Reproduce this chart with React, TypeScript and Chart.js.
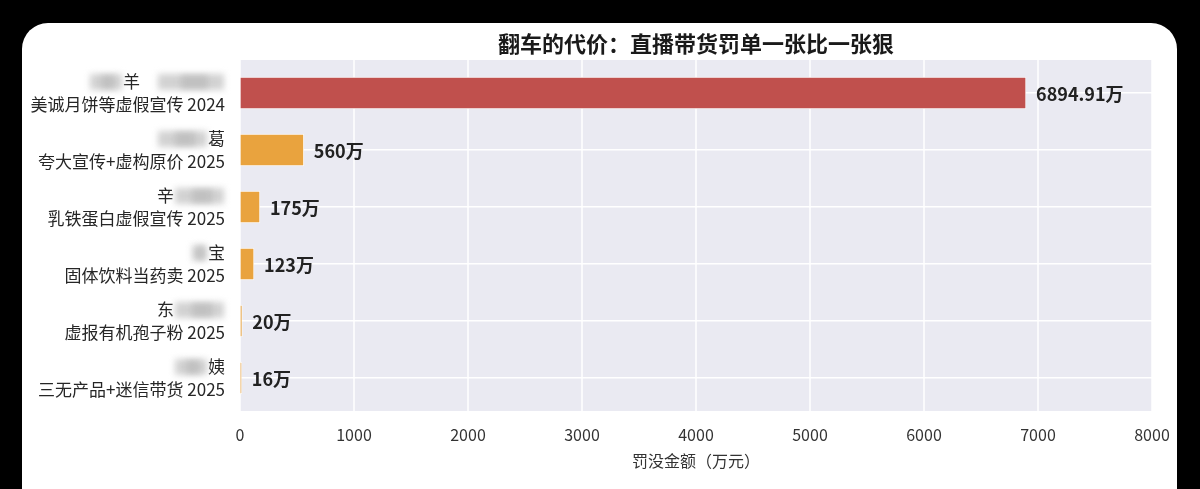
import React, { useEffect, useRef } from "react";
import { Chart, registerables } from "chart.js";

Chart.register(...registerables);

const FONT = '"Noto Sans CJK SC", "Noto Sans", sans-serif';

// name line (○ marks a blurred / hidden character) and case description
const namePatterns = ["○○羊　○○○○", "○○○葛", "辛○○○", "○宝", "东○○○", "○○姨"];
const caseLabels = [
  "美诚月饼等虚假宣传 2024",
  "夸大宣传+虚构原价 2025",
  "乳铁蛋白虚假宣传 2025",
  "固体饮料当药卖 2025",
  "虚报有机孢子粉 2025",
  "三无产品+迷信带货 2025",
];
const fines = [6894.91, 560, 175, 123, 20, 16];
const valueLabels = ["6894.91万", "560万", "175万", "123万", "20万", "16万"];
const barColors = ["#C0504D", "#E9A33E", "#E9A33E", "#E9A33E", "#E9A33E", "#E9A33E"];
const xTicks = [0, 1000, 2000, 3000, 4000, 5000, 6000, 7000, 8000];
const titleText = "翻车的代价：直播带货罚单一张比一张狠";
const xTitle = "罚没金额（万元）";

const BLANK = "\u3000";
const Y_FONT_SIZE = 17;

export default function App() {
  const ref = useRef<HTMLCanvasElement | null>(null);

  useEffect(() => {
    const canvas = ref.current;
    if (!canvas) return;

    const labels = namePatterns.map((p, i) => [p.split("○").join(BLANK), caseLabels[i]]);

    const bgPlugin = {
      id: "bgPlugin",
      beforeDraw(chart: any) {
        const { ctx, chartArea, scales } = chart;
        const top = chartArea.top - 4.5;
        const bottom = chartArea.bottom + 4.5;
        ctx.save();
        ctx.fillStyle = "#EAEAF2";
        ctx.fillRect(chartArea.left, top, chartArea.right - chartArea.left, bottom - top);
        ctx.strokeStyle = "#FFFFFF";
        ctx.lineWidth = 1.5;
        xTicks.forEach((t) => {
          const x = scales.x.getPixelForValue(t);
          ctx.beginPath();
          ctx.moveTo(x, top);
          ctx.lineTo(x, bottom);
          ctx.stroke();
        });
        ctx.restore();
      },
    };

    const titlePlugin = {
      id: "titlePlugin",
      afterDraw(chart: any) {
        const { ctx, chartArea } = chart;
        ctx.save();
        ctx.font = `bold 22px ${FONT}`;
        ctx.fillStyle = "#1a1a1a";
        ctx.textAlign = "center";
        ctx.textBaseline = "middle";
        ctx.fillText(titleText, (chartArea.left + chartArea.right) / 2, chartArea.top - 20.5);
        ctx.restore();
      },
    };

    const valuePlugin = {
      id: "valuePlugin",
      afterDatasetsDraw(chart: any) {
        const { ctx } = chart;
        const meta = chart.getDatasetMeta(0);
        ctx.save();
        ctx.font = `bold 18px ${FONT}`;
        ctx.fillStyle = "#222222";
        ctx.textAlign = "left";
        ctx.textBaseline = "middle";
        meta.data.forEach((bar: any, i: number) => {
          ctx.fillText(valueLabels[i], bar.x + 10, bar.y + 1);
        });
        ctx.restore();
      },
    };

    const blurPlugin = {
      id: "blurPlugin",
      afterDraw(chart: any) {
        const { ctx, chartArea, scales } = chart;
        const rightX = chartArea.left - 15;
        ctx.save();
        ctx.font = `${Y_FONT_SIZE}px ${FONT}`;
        namePatterns.forEach((p, i) => {
          const line = p.split("○").join(BLANK);
          const total = ctx.measureText(line).width;
          const startX = rightX - total;
          const cy = scales.y.getPixelForValue(i) - 11;
          const chars = Array.from(p);
          let j = 0;
          while (j < chars.length) {
            if (chars[j] === "○") {
              let k = j;
              while (k < chars.length && chars[k] === "○") k++;
              const x0 = startX + ctx.measureText(chars.slice(0, j).join("").split("○").join(BLANK)).width;
              const x1 = startX + ctx.measureText(chars.slice(0, k).join("").split("○").join(BLANK)).width;
              ctx.filter = "blur(3px)";
              ctx.fillStyle = "#d2d2d2";
              ctx.fillRect(x0 + 1, cy - 8, x1 - x0 - 2, 16);
              ctx.fillStyle = "#c0c0c0";
              ctx.fillRect(x0 + (x1 - x0) * 0.35, cy - 6, (x1 - x0) * 0.4, 12);
              ctx.filter = "none";
              j = k;
            } else j++;
          }
        });
        ctx.restore();
      },
    };

    const chart = new Chart(canvas, {
      type: "bar",
      data: {
        labels,
        datasets: [
          {
            data: fines,
            backgroundColor: barColors,
            borderColor: "rgba(255,255,255,0.75)",
            borderWidth: 1,
            borderSkipped: false,
            barThickness: 32,
          },
        ],
      },
      options: {
        indexAxis: "y",
        animation: false,
        responsive: false,
        devicePixelRatio: 1,
        layout: { padding: { left: 0, right: 25, top: 41.5, bottom: 0 } },
        plugins: {
          legend: { display: false },
          tooltip: { enabled: false },
          title: { display: false },
        },
        scales: {
          x: {
            type: "linear",
            min: 0,
            max: 8000,
            afterBuildTicks(scale: any) {
              scale.ticks = xTicks.map((v) => ({ value: v }));
            },
            afterFit(scale: any) {
              scale.height = 82.5;
              scale.paddingLeft = 0;
              scale.paddingRight = 0;
            },
            grid: { display: false, drawTicks: false },
            border: { display: false },
            ticks: {
              color: "#333333",
              padding: 19,
              font: { family: FONT, size: 16, lineHeight: 1.2 },
              maxRotation: 0,
              callback: (v: any) => String(v),
            },
            title: {
              display: true,
              text: xTitle,
              color: "#333333",
              font: { family: FONT, size: 16, lineHeight: 1.2 },
              padding: { top: 7, bottom: 18 },
            },
          },
          y: {
            grid: { color: "#FFFFFF", lineWidth: 1.5, offset: false, drawTicks: false },
            border: { display: false },
            afterFit(scale: any) {
              scale.width = 218;
              scale.paddingTop = 0;
              scale.paddingBottom = 0;
            },
            ticks: {
              color: "#262626",
              padding: 15,
              font: { family: FONT, size: Y_FONT_SIZE, lineHeight: 1.3 },
            },
          },
        },
      },
      plugins: [bgPlugin, valuePlugin, blurPlugin, titlePlugin],
    } as any);

    return () => chart.destroy();
  }, []);

  return (
    <div style={{ position: "fixed", inset: 0, background: "#000", overflow: "hidden" }}>
      <div
        style={{
          position: "absolute",
          left: 22,
          top: 23,
          width: 1155,
          height: 520,
          background: "#fff",
          borderRadius: 26,
          overflow: "hidden",
        }}
      >
        <canvas ref={ref} width={1155} height={466} style={{ width: 1155, height: 466, display: "block" }} />
      </div>
    </div>
  );
}
